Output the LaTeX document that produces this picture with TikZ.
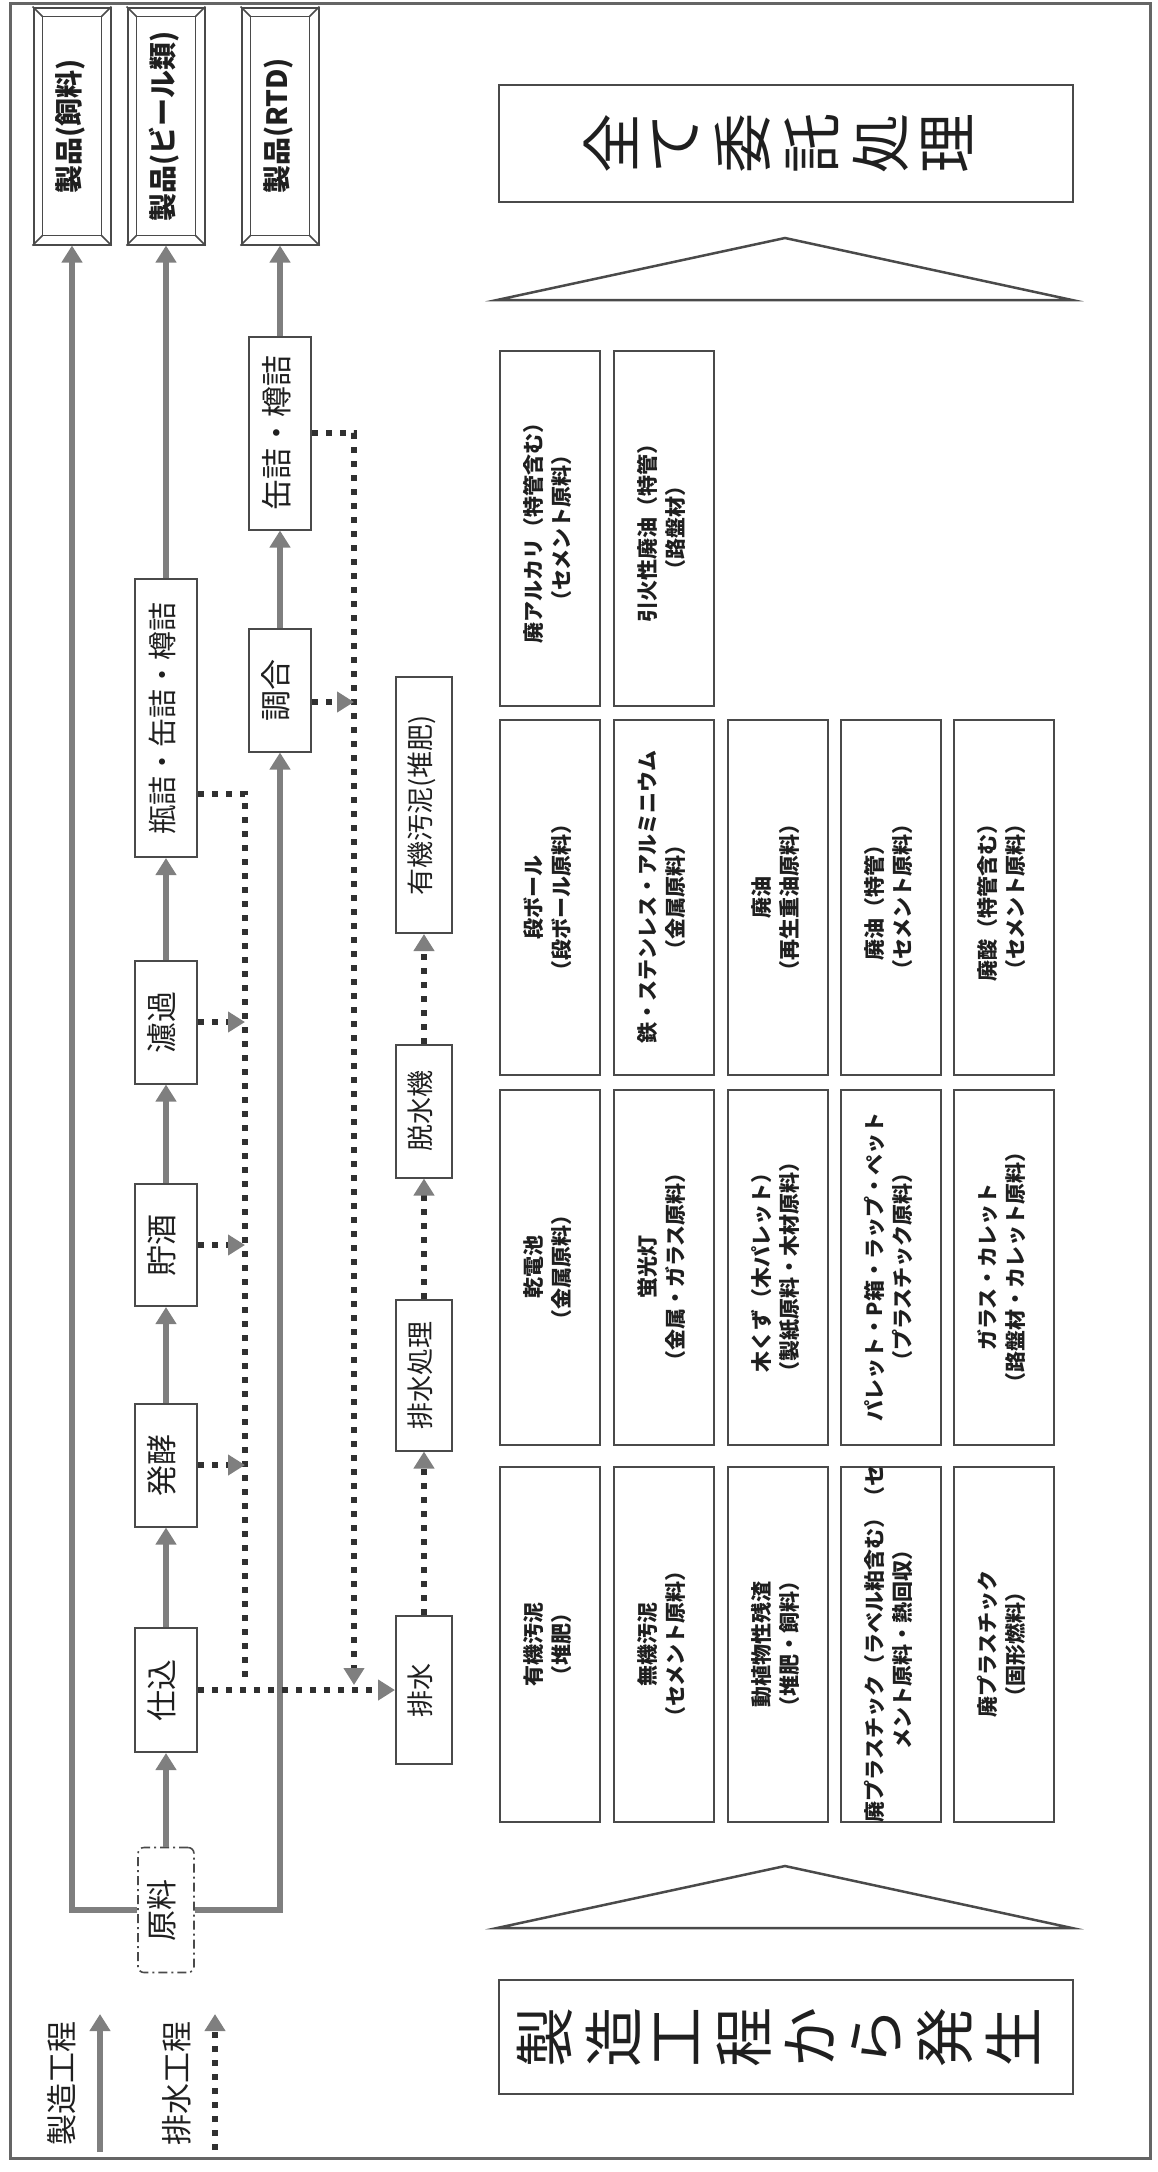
\documentclass[tikz,border=0pt]{standalone}
\usepackage{graphicx}
\usepackage{fontspec}
\setmainfont{Noto Sans CJK JP}
\usetikzlibrary{arrows.meta}

\definecolor{flowgray}{HTML}{7F7F7F}
\definecolor{dotgray}{HTML}{303030}
\definecolor{edgegray}{HTML}{4A4A4A}

\newcommand{\vt}[1]{\rotatebox{90}{\begin{tabular}{@{}c@{}}#1\end{tabular}}}
\newcommand{\bevel}[1]{%
  \draw[edgegray, line width=1.6pt] ([shift={(10pt,-10pt)}]#1.north west) rectangle ([shift={(-10pt,10pt)}]#1.south east);
  \draw[edgegray, line width=1.6pt] (#1.north west) -- ++(10pt,-10pt);
  \draw[edgegray, line width=1.6pt] (#1.north east) -- ++(-10pt,-10pt);
  \draw[edgegray, line width=1.6pt] (#1.south west) -- ++(10pt,10pt);
  \draw[edgegray, line width=1.6pt] (#1.south east) -- ++(-10pt,10pt);}

\tikzset{
  framebox/.style={draw=edgegray, line width=2pt, fill=white, inner sep=0pt, text=black!88},
  procbox/.style={framebox, minimum width=62pt, font=\fontsize{31}{34}\selectfont},
  rawbox/.style={procbox, minimum width=56pt, minimum height=125pt, line width=1.6pt,
    dash pattern=on 9pt off 4pt on 2pt off 4pt, rounded corners=6pt},
  wastestep/.style={framebox, minimum width=56pt, font=\fontsize{27}{31}\selectfont},
  prodbox/.style={framebox, minimum width=77pt, minimum height=237pt, font=\bfseries\fontsize{28}{32}\selectfont},
  itembox/.style={framebox, minimum width=100pt, minimum height=355pt, font=\bfseries\fontsize{21}{28}\selectfont},
  bigbox/.style={framebox, minimum width=574pt, font=\fontsize{60}{62}\selectfont},
  legendtext/.style={inner sep=0pt, text=black!88, font=\fontsize{31}{34}\selectfont},
  flowarrow/.style={draw=flowgray, line width=6pt, -{Triangle[width=20pt,length=17pt]}},
  drainline/.style={draw=dotgray, line width=6pt, dash pattern=on 6pt off 8pt},
  drainarrow/.style={drainline, -{Triangle[width=20pt,length=17pt,color=flowgray]}},
  chevron/.style={draw=edgegray, line width=2.5pt, fill=white, line join=miter},
}

\begin{document}
\begin{tikzpicture}[x=1pt,y=-1pt]
\useasboundingbox (0,0) rectangle (1157,2172);
\draw[flowgray!80!black, line width=3pt] (10,3) rectangle (1150,2158);

\draw (72,126) node[prodbox] (shiryo) {\vt{製品(飼料)}};
\draw (166,126) node[prodbox] (beer) {\vt{製品(ビール類)}};
\draw (280,126) node[prodbox] (rtd) {\vt{製品(RTD)}};
\bevel{shiryo}
\bevel{beer}
\bevel{rtd}

\draw (166,1910) node[rawbox] (genryo) {\vt{原料}};
\draw (166,1690) node[procbox, minimum height=124pt] (shikomi) {\vt{仕込}};
\draw (166,1465) node[procbox, minimum height=123pt] (hakko) {\vt{発酵}};
\draw (166,1245) node[procbox, minimum height=122pt] (chozo) {\vt{貯酒}};
\draw (166,1022) node[procbox, minimum height=123pt] (roka) {\vt{濾過}};
\draw (166,718) node[procbox, minimum height=278pt, font=\fontsize{29}{34}\selectfont] (binzume) {\vt{瓶詰・缶詰・樽詰}};
\draw (280,690) node[procbox, minimum height=123pt] (chogo) {\vt{調合}};
\draw (280,433) node[procbox, minimum height=193pt] (kanzume) {\vt{缶詰・樽詰}};

\draw (424,1690) node[wastestep, minimum height=148pt] (haisui) {\vt{排水}};
\draw (424,1375) node[wastestep, minimum height=151pt] (shori) {\vt{排水処理}};
\draw (424,1111) node[wastestep, minimum height=133pt] (dassui) {\vt{脱水機}};
\draw (424,805) node[wastestep, minimum height=256pt] (odei) {\vt{有機汚泥(堆肥)}};

\draw[flowarrow] (genryo.north) -- (shikomi.south);
\draw[flowarrow] (shikomi.north) -- (hakko.south);
\draw[flowarrow] (hakko.north) -- (chozo.south);
\draw[flowarrow] (chozo.north) -- (roka.south);
\draw[flowarrow] (roka.north) -- (binzume.south);
\draw[flowarrow] (binzume.north) -- (beer.south);
\draw[flowarrow] (genryo.west) -| (shiryo.south);
\draw[flowarrow] (genryo.east) -| (chogo.south);
\draw[flowarrow] (chogo.north) -- (kanzume.south);
\draw[flowarrow] (kanzume.north) -- (rtd.south);

\coordinate (bottlejoin) at (245,1683);
\coordinate (canjoin) at (354,1685);
\draw[drainline] ([yshift=-76pt]binzume.east) -| (bottlejoin);
\draw[drainarrow] (roka.east) -- (roka.east -| bottlejoin);
\draw[drainarrow] (chozo.east) -- (chozo.east -| bottlejoin);
\draw[drainarrow] (hakko.east) -- (hakko.east -| bottlejoin);
\draw[drainarrow] (kanzume.east) -| (canjoin);
\draw[drainarrow] ([yshift=-12pt]chogo.east) -- ([yshift=-12pt]chogo.east -| canjoin);
\draw[drainarrow] (shikomi.east) -- (haisui.west);
\draw[drainarrow] (haisui.north) -- (shori.south);
\draw[drainarrow] (shori.north) -- (dassui.south);
\draw[drainarrow] (dassui.north) -- (odei.south);

\draw (786,143) node[bigbox, minimum height=117pt] (itaku) {\vt{全\\て\\委\\託\\処\\理}};
\draw[chevron] (497,300) -- (785,238) -- (1072,300) -- cycle;

\draw (550,528) node[itembox] (alkali) {\vt{廃アルカリ（特管含む）\\（セメント原料）}};
\draw (664,528) node[itembox] (flamoil) {\vt{引火性廃油（特管）\\（路盤材）}};

\draw (550,897) node[itembox] (danball) {\vt{段ボール\\（段ボール原料）}};
\draw (664,897) node[itembox] (metal) {\vt{鉄・ステンレス・アルミニウム\\（金属原料）}};
\draw (778,897) node[itembox] (oil) {\vt{廃油\\（再生重油原料）}};
\draw (891,897) node[itembox] (oilsp) {\vt{廃油（特管）\\（セメント原料）}};
\draw (1004,897) node[itembox] (acid) {\vt{廃酸（特管含む）\\（セメント原料）}};

\draw (550,1267) node[itembox] (battery) {\vt{乾電池\\（金属原料）}};
\draw (664,1267) node[itembox] (lamp) {\vt{蛍光灯\\（金属・ガラス原料）}};
\draw (778,1267) node[itembox] (wood) {\vt{木くず（木パレット）\\（製紙原料・木材原料）}};
\draw (891,1267) node[itembox] (pallet) {\vt{パレット・P箱・ラップ・ペット\\（プラスチック原料）}};
\draw (1004,1267) node[itembox] (glass) {\vt{ガラス・カレット\\（路盤材・カレット原料）}};

\draw (550,1644) node[itembox] (organic) {\vt{有機汚泥\\（堆肥）}};
\draw (664,1644) node[itembox] (inorganic) {\vt{無機汚泥\\（セメント原料）}};
\draw (778,1644) node[itembox] (residue) {\vt{動植物性残渣\\（堆肥・飼料）}};
\draw (891,1644) node[itembox] (plabel) {\rotatebox{90}{\makebox[340pt][c]{\begin{tabular}{@{}c@{}}廃プラスチック（ラベル粕含む）（セ\\メント原料・熱回収）\end{tabular}}}};
\draw (1004,1644) node[itembox] (plastic) {\vt{廃プラスチック\\（固形燃料）}};

\draw[chevron] (497,1928) -- (785,1866) -- (1072,1928) -- cycle;
\draw (786,2037) node[bigbox, minimum height=114pt] (hassei) {\vt{製\\造\\工\\程\\か\\ら\\発\\生}};

\draw (62,2083) node[legendtext] (legmfg) {\rotatebox{90}{製造工程}};
\coordinate (mfgtail) at (100,2152);
\coordinate (mfghead) at (100,2014);
\draw[flowarrow] (mfgtail) -- (mfghead);
\draw (177,2083) node[legendtext] (legdrain) {\rotatebox{90}{排水工程}};
\coordinate (draintail) at (215,2150);
\coordinate (drainhead) at (215,2014);
\draw[drainarrow] (draintail) -- (drainhead);
\end{tikzpicture}
\end{document}
